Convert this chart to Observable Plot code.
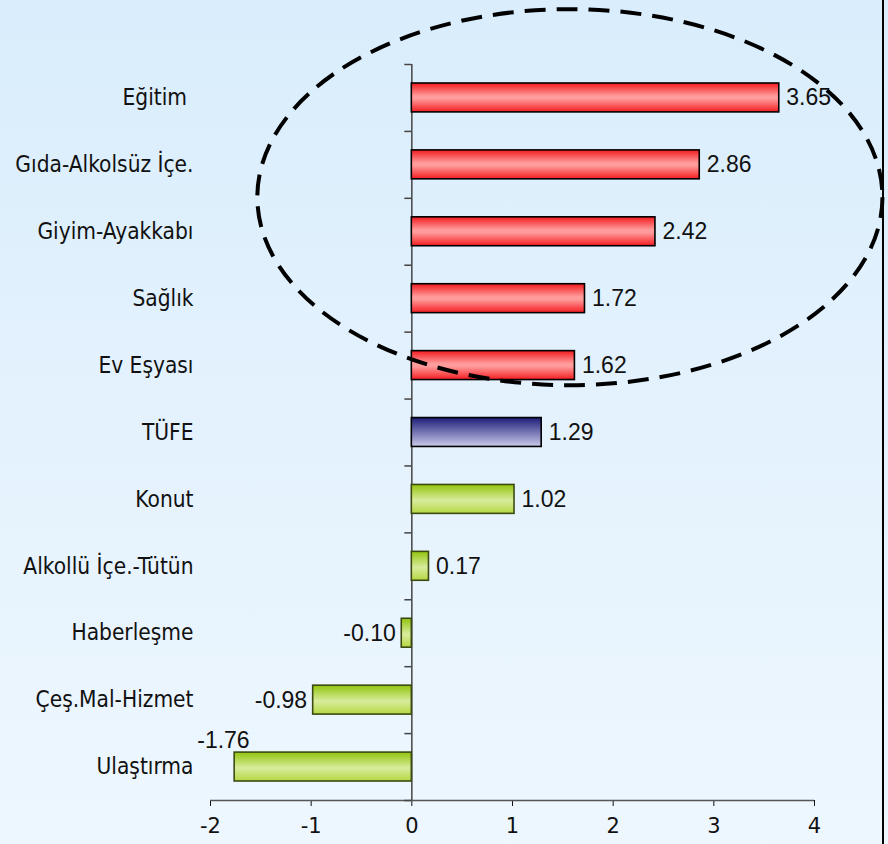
<!DOCTYPE html>
<html>
<head>
<meta charset="utf-8">
<script src="https://cdn.jsdelivr.net/npm/d3@7"></script>
<script src="https://cdn.jsdelivr.net/npm/@observablehq/plot@0.6"></script>
<style>
  html, body { margin: 0; padding: 0; }
  body {
    width: 888px; height: 844px; overflow: hidden; position: relative;
    background: linear-gradient(to bottom, #d9edfc 0%, #e4f2fd 50%, #eef7fe 100%);
  }
  #chart { position: absolute; left: 0; top: 0; }
  #edge { position: absolute; left: 882px; top: 0; width: 2px; height: 844px; background: #000; }
</style>
</head>
<body>
<svg width="0" height="0" style="position:absolute">
  <defs>
    <linearGradient id="gradAbove" x1="0" y1="0" x2="0" y2="1">
      <stop offset="0%" stop-color="#f21a1e"/>
      <stop offset="45%" stop-color="#ff9c9c"/>
      <stop offset="55%" stop-color="#ff9a9a"/>
      <stop offset="100%" stop-color="#f41c20"/>
    </linearGradient>
    <linearGradient id="gradCpi" x1="0" y1="0" x2="0" y2="1">
      <stop offset="0%" stop-color="#1e1e78"/>
      <stop offset="100%" stop-color="#cacaea"/>
    </linearGradient>
    <linearGradient id="gradBelow" x1="0" y1="0" x2="0" y2="1">
      <stop offset="0%" stop-color="#92c40e"/>
      <stop offset="55%" stop-color="#d8ec9c"/>
      <stop offset="100%" stop-color="#b4d842"/>
    </linearGradient>
  </defs>
</svg>
<div id="chart"></div>
<div id="edge"></div>
<script>
const categories = [
  "Eğitim\u00a0", "Gıda-Alkolsüz İçe.", "Giyim-Ayakkabı", "Sağlık", "Ev Eşyası",
  "TÜFE", "Konut", "Alkollü İçe.-Tütün", "Haberleşme", "Çeş.Mal-Hizmet", "Ulaştırma"
];
const values = [3.65, 2.86, 2.42, 1.72, 1.62, 1.29, 1.02, 0.17, -0.10, -0.98, -1.76];
const groups = ["above", "above", "above", "above", "above", "cpi", "below", "below", "below", "below", "below"];
const xTicks = [-2, -1, 0, 1, 2, 3, 4];
// dashed highlight ellipse extents, in data units (x value, y row index)
const highlightX = [-1.53, 4.68];
const highlightY = [-1.32, 4.30];

const rows = categories.map((c, i) => ({category: c, value: values[i], group: groups[i], i}));
const boundaries = d3.range(categories.length + 1).map(i => i - 0.5);
const gradient = {above: "url(#gradAbove)", cpi: "url(#gradCpi)", below: "url(#gradBelow)"};
const outline = {above: "#000", cpi: "#000", below: "#3c4a12"};

const barMarks = ["above", "cpi", "below"].map(g =>
  Plot.rect(rows.filter(d => d.group === g), {
    x1: 0, x2: "value",
    y1: d => d.i - 0.5, y2: d => d.i + 0.5,
    insetTop: 19, insetBottom: 19,
    fill: gradient[g], stroke: outline[g], strokeWidth: 1.6
  })
);

const ellipseMark = (index, scales) => {
  const {x, y} = scales;
  const x0 = x(highlightX[0]), x1 = x(highlightX[1]);
  const y0 = y(highlightY[0]), y1 = y(highlightY[1]);
  const el = document.createElementNS("http://www.w3.org/2000/svg", "ellipse");
  el.setAttribute("cx", (x0 + x1) / 2);
  el.setAttribute("cy", (y0 + y1) / 2);
  el.setAttribute("rx", Math.abs(x1 - x0) / 2);
  el.setAttribute("ry", Math.abs(y1 - y0) / 2);
  el.setAttribute("fill", "none");
  el.setAttribute("stroke", "#000");
  el.setAttribute("stroke-width", 4);
  el.setAttribute("stroke-dasharray", "21,11");
  return el;
};

const plot = Plot.plot({
  width: 888,
  height: 844,
  marginLeft: 210,
  marginRight: 74,
  marginTop: 64,
  marginBottom: 44,
  style: {background: "transparent", fontFamily: "DejaVu Sans", fontSize: "21px", color: "#111", overflow: "visible"},
  x: {domain: [-2, 4], ticks: xTicks, tickSize: 6, tickPadding: 12, tickFormat: d => String(d), label: null},
  y: {domain: [-0.5, categories.length - 0.5], reverse: true, axis: null},
  marks: [
    // x axis line
    Plot.ruleY([categories.length - 0.5], {x1: -2, x2: 4, stroke: "#555", strokeWidth: 1.5}),
    // y axis line and band-boundary ticks
    Plot.ruleX([0], {stroke: "#444", strokeWidth: 1.5}),
    Plot.ruleY(boundaries, {y: d => d, x1: 0, x2: 0, insetLeft: -7, stroke: "#444", strokeWidth: 1.5}),
    ...barMarks,
    // category labels
    Plot.text(rows, {
      y: "i", text: "category", frameAnchor: "left", textAnchor: "end", dx: -17,
      fontFamily: "DejaVu Sans Condensed", fontSize: 22.5, fill: "#111"
    }),
    // value labels
    Plot.text(rows.filter(d => d.value >= 0), {
      x: "value", y: "i", text: d => d.value.toFixed(2), textAnchor: "start", dx: 7,
      fontFamily: "Liberation Sans", fontSize: 23, fill: "#111"
    }),
    Plot.text(rows.filter(d => d.value < 0 && d.value > -1.5), {
      x: "value", y: "i", text: d => d.value.toFixed(2), textAnchor: "end", dx: -6,
      fontFamily: "Liberation Sans", fontSize: 23, fill: "#111"
    }),
    Plot.text(rows.filter(d => d.value <= -1.5), {
      x: "value", y: "i", text: d => d.value.toFixed(2), textAnchor: "end", dx: 15, dy: -26,
      fontFamily: "Liberation Sans", fontSize: 23, fill: "#111"
    }),
    ellipseMark
  ]
});
document.getElementById("chart").appendChild(plot);
</script>
</body>
</html>
